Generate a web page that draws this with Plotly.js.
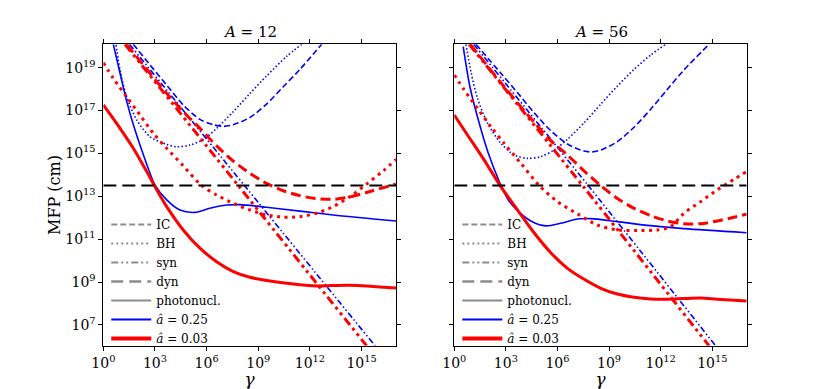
<!DOCTYPE html>
<html>
<head>
<meta charset="utf-8">
<script src="https://cdn.plot.ly/plotly-3.0.1.min.js"></script>
<style>
body { margin: 0; background: #fff; }
#plot { width: 830px; height: 389px; }
</style>
</head>
<body>
<div id="plot"></div>
<script>
// all values: log10(gamma), log10(MFP / cm)

// ---- A = 12 ----
var a12_ph_hi_x = [0.58, 0.97, 1.35, 1.74, 2.32, 3.0, 3.68, 4.45, 5.32, 6.19, 7.16, 7.94, 9.48, 11.42, 13.35, 17.0];
var a12_ph_hi_y = [20.09, 18.74, 17.45, 16.35, 14.95, 13.53, 12.83, 12.36, 12.25, 12.44, 12.59, 12.61, 12.49, 12.31, 12.13, 11.85];
var a12_ph_lo_x = [0, 0.97, 1.74, 2.52, 3.0, 3.68, 4.64, 5.61, 6.58, 7.55, 8.52, 9.48, 11.42, 12.39, 14.32, 17.0];
var a12_ph_lo_y = [17.26, 16.17, 15.24, 14.15, 13.45, 12.52, 11.43, 10.58, 9.95, 9.49, 9.22, 9.07, 8.87, 8.82, 8.85, 8.72];
var a12_bh_hi_x = [0.74, 0.97, 1.35, 1.94, 2.71, 3.68, 4.26, 5.03, 5.81, 6.58, 7.55, 8.52, 9.48, 10.64, 11.52];
var a12_bh_hi_y = [20.06, 18.89, 17.65, 16.56, 15.78, 15.42, 15.31, 15.39, 15.65, 16.17, 16.95, 17.80, 18.61, 19.52, 20.09];
var a12_bh_lo_x = [0, 0.58, 1.35, 2.13, 2.90, 3.68, 4.64, 5.71, 6.58, 7.55, 8.52, 9.48, 10.45, 11.42, 12.39, 13.35, 14.32, 15.29, 16.26, 17.0];
var a12_bh_lo_y = [19.23, 18.50, 17.65, 16.79, 15.94, 15.24, 14.42, 13.50, 13.06, 12.67, 12.36, 12.13, 12.03, 12.05, 12.21, 12.52, 12.98, 13.57, 14.19, 14.72];
var a12_ic_hi_x = [1.74, 2.71, 3.68, 4.64, 5.61, 6.39, 6.97, 7.55, 8.52, 9.48, 10.45, 11.42, 12.68];
var a12_ic_hi_y = [20.09, 19.13, 18.19, 17.26, 16.59, 16.34, 16.26, 16.34, 16.68, 17.30, 18.11, 18.92, 20.09];
var a12_ic_lo_x = [1.35, 2.71, 3.68, 4.64, 5.61, 6.58, 7.55, 8.52, 9.48, 10.45, 11.42, 12.39, 13.35, 14.32, 15.29, 17.0];
var a12_ic_lo_y = [20.09, 18.74, 17.80, 16.95, 16.17, 15.35, 14.64, 14.07, 13.60, 13.26, 13.03, 12.89, 12.86, 12.97, 13.18, 13.57];
var a12_syn_hi_x = [1.52, 8.3, 15.78];
var a12_syn_hi_y = [20.09, 13.4, 6.03];
var a12_syn_lo_x = [1.26, 7.84, 15.29];
var a12_syn_lo_y = [20.09, 13.5, 6.03];

// ---- A = 56 ----
var a56_ph_hi_x = [0.52, 0.91, 1.40, 1.98, 2.66, 3.14, 3.68, 4.45, 5.32, 6.19, 7.16, 7.94, 9.48, 11.42, 13.35, 17.0];
var a56_ph_hi_y = [19.98, 18.11, 16.56, 15.01, 13.61, 12.83, 12.33, 11.85, 11.62, 11.74, 11.94, 11.96, 11.82, 11.63, 11.49, 11.30];
var a56_ph_lo_x = [0, 0.77, 1.74, 2.71, 3.68, 4.64, 5.61, 6.58, 7.55, 8.52, 9.48, 10.45, 11.42, 12.39, 13.35, 14.32, 15.29, 17.0];
var a56_ph_lo_y = [16.79, 15.86, 14.69, 13.45, 12.36, 11.30, 10.37, 9.64, 9.13, 8.71, 8.44, 8.29, 8.21, 8.20, 8.23, 8.25, 8.20, 8.12];
var a56_bh_hi_x = [0.68, 0.97, 1.35, 1.94, 2.71, 3.48, 4.26, 5.03, 5.81, 6.58, 7.55, 8.52, 9.48, 10.45, 11.42, 12.29];
var a56_bh_hi_y = [20.09, 18.81, 17.57, 16.40, 15.47, 14.93, 14.77, 14.85, 15.16, 15.66, 16.43, 17.30, 18.14, 18.92, 19.59, 20.09];
var a56_bh_lo_x = [0, 0.58, 1.35, 2.13, 2.90, 3.87, 4.94, 6.0, 7.16, 8.32, 9.48, 10.64, 11.81, 12.58, 13.35, 14.32, 15.29, 16.26, 17.0];
var a56_bh_lo_y = [18.66, 17.96, 17.10, 16.25, 15.47, 14.54, 13.50, 12.75, 12.18, 11.66, 11.43, 11.40, 11.43, 11.58, 12.21, 12.75, 13.30, 13.79, 14.15];
var a56_ic_hi_x = [1.26, 2.71, 3.68, 4.64, 5.61, 6.58, 7.55, 8.03, 8.52, 9.48, 10.45, 11.42, 12.39, 13.35, 14.81];
var a56_ic_hi_y = [20.09, 18.74, 17.83, 16.90, 16.06, 15.44, 15.11, 15.07, 15.16, 15.55, 16.22, 17.06, 17.99, 18.89, 20.09];
var a56_ic_lo_x = [0.93, 2.71, 4.64, 5.61, 6.58, 7.55, 8.52, 9.48, 10.45, 11.42, 12.39, 13.35, 14.32, 15.29, 16.26, 17.0];
var a56_ic_lo_y = [20.09, 18.30, 16.45, 15.60, 14.93, 14.18, 13.50, 12.90, 12.44, 12.10, 11.85, 11.72, 11.72, 11.85, 12.02, 12.17];
var a56_syn_hi_x = [1.13, 7.84, 15.19];
var a56_syn_hi_y = [20.09, 13.45, 6.03];
var a56_syn_lo_x = [0.87, 7.55, 14.81];
var a56_syn_lo_y = [20.09, 13.41, 6.03];

// dynamical time, same in both panels
var dyn_x = [0, 17];
var dyn_y = [13.5, 13.5];

var x_tickvals = [0, 3, 6, 9, 12, 15];
var y_tickvals = [7, 9, 11, 13, 15, 17, 19];
var legend_names = ['IC', 'BH', 'syn', 'dyn', 'photonucl.', '<i>â</i> = 0.25', '<i>â</i> = 0.03'];

function pow10(arr) {
    return arr.map(function (v) { return Math.pow(10, v); });
}
function sup_labels(arr) {
    return arr.map(function (v) { return '10<sup>' + v + '</sup>'; });
}

var BLUE = '#0000ff', RED = '#ff0000', GREY = '#8c8c8c';
var dash_ic = ['6px,3px', '10px,5px'];
var dash_bh = ['1.5px,2.2px', '3px,4.5px'];
var dash_syn = ['6px,2.5px,1.5px,2.5px,1.5px,2.5px', '9px,4px,3px,4px,3px,4px'];

function curve(xs, ys, color, width, dash, xa, ya) {
    return {
	type : 'scatter', mode : 'lines',
	x : pow10(xs), y : pow10(ys),
	xaxis : xa, yaxis : ya,
	line : { color : color, width : width, dash : dash, shape : 'spline', smoothing : 0.8 },
	showlegend : false, hoverinfo : 'skip'
    };
}

var data = [];
var panels = [
    { xa : 'x', ya : 'y', ph : [a12_ph_hi_x, a12_ph_hi_y, a12_ph_lo_x, a12_ph_lo_y],
      bh : [a12_bh_hi_x, a12_bh_hi_y, a12_bh_lo_x, a12_bh_lo_y],
      ic : [a12_ic_hi_x, a12_ic_hi_y, a12_ic_lo_x, a12_ic_lo_y],
      syn : [a12_syn_hi_x, a12_syn_hi_y, a12_syn_lo_x, a12_syn_lo_y], legend : 'legend' },
    { xa : 'x2', ya : 'y2', ph : [a56_ph_hi_x, a56_ph_hi_y, a56_ph_lo_x, a56_ph_lo_y],
      bh : [a56_bh_hi_x, a56_bh_hi_y, a56_bh_lo_x, a56_bh_lo_y],
      ic : [a56_ic_hi_x, a56_ic_hi_y, a56_ic_lo_x, a56_ic_lo_y],
      syn : [a56_syn_hi_x, a56_syn_hi_y, a56_syn_lo_x, a56_syn_lo_y], legend : 'legend2' }
];

for (let i = 0; i < panels.length; i++) {
    var p = panels[i];
    // blue = spin 0.25 (thin), red = spin 0.03 (thick)
    data.push(curve(p.ic[0], p.ic[1], BLUE, 1.6, dash_ic[0], p.xa, p.ya));
    data.push(curve(p.bh[0], p.bh[1], BLUE, 1.6, dash_bh[0], p.xa, p.ya));
    data.push(curve(p.syn[0], p.syn[1], BLUE, 1.6, dash_syn[0], p.xa, p.ya));
    data.push(curve(p.ph[0], p.ph[1], BLUE, 1.6, 'solid', p.xa, p.ya));
    data.push(curve(p.ic[2], p.ic[3], RED, 3, dash_ic[1], p.xa, p.ya));
    data.push(curve(p.bh[2], p.bh[3], RED, 3, dash_bh[1], p.xa, p.ya));
    data.push(curve(p.syn[2], p.syn[3], RED, 3, dash_syn[1], p.xa, p.ya));
    data.push(curve(p.ph[2], p.ph[3], RED, 3, 'solid', p.xa, p.ya));
    data.push(curve(dyn_x, dyn_y, 'black', 2, '13px,6px', p.xa, p.ya));

    // legend samples
    var leg_style = [
	{ color : GREY, width : 2, dash : '6px,3px' },
	{ color : GREY, width : 2, dash : '2px,3px' },
	{ color : GREY, width : 2, dash : '7px,3px,2px,3px,2px,3px' },
	{ color : GREY, width : 2.5, dash : '12px,6px' },
	{ color : GREY, width : 2, dash : 'solid' },
	{ color : BLUE, width : 2, dash : 'solid' },
	{ color : RED, width : 4, dash : 'solid' }
    ];
    for (let j = 0; j < legend_names.length; j++) {
	data.push({
	    type : 'scatter', mode : 'lines', x : [null], y : [null],
	    xaxis : p.xa, yaxis : p.ya, name : legend_names[j],
	    line : leg_style[j], legend : p.legend, showlegend : true
	});
    }
}

var FONT = 'DejaVu Serif';
var dom_y = [0.1113, 0.8861];

function xaxis(dom, anchor) {
    return {
	type : 'log', domain : dom, anchor : anchor,
	range : [0, 17],
	tickmode : 'array', tickvals : pow10(x_tickvals), ticktext : sup_labels(x_tickvals),
	ticks : 'outside', ticklen : 4, tickcolor : 'black',
	showline : true, linecolor : 'black', linewidth : 1, mirror : 'ticks',
	showgrid : false, zeroline : false,
	tickfont : { family : FONT, size : 14, color : 'black' },
	title : { text : '<i>γ</i>', font : { family : FONT, size : 17, color : 'black' }, standoff : 3 }
    };
}
function yaxis(anchor, labels) {
    return {
	type : 'log', domain : dom_y, anchor : anchor,
	range : [6.03, 20.09],
	tickmode : 'array', tickvals : pow10(y_tickvals), ticktext : sup_labels(y_tickvals),
	showticklabels : labels,
	ticks : 'outside', ticklen : 4, tickcolor : 'black',
	showline : true, linecolor : 'black', linewidth : 1, mirror : 'ticks',
	showgrid : false, zeroline : false,
	tickfont : { family : FONT, size : 14, color : 'black' }
    };
}

var yaxis1 = yaxis('x', true);
yaxis1.title = { text : 'MFP (cm)', font : { family : FONT, size : 16, color : 'black' }, standoff : 0 };

function leg(x) {
    return {
	x : x, y : 0.46, xanchor : 'left', yanchor : 'top',
	bgcolor : 'rgba(0,0,0,0)', borderwidth : 0,
	font : { family : FONT, size : 12, color : 'black' },
	itemwidth : 40, tracegroupgap : 0
    };
}

var layout = {
    width : 830, height : 389,
    margin : { l : 0, r : 0, t : 0, b : 0 },
    paper_bgcolor : 'white', plot_bgcolor : 'white',
    font : { family : FONT },
    showlegend : true,
    xaxis : xaxis([0.1245, 0.4771], 'y'),
    yaxis : yaxis1,
    xaxis2 : xaxis([0.5473, 0.8996], 'y2'),
    yaxis2 : yaxis('x2', false),
    legend : leg(0.128),
    legend2 : leg(0.551),
    annotations : [
	{ text : '<i>A</i> = 12', xref : 'paper', yref : 'paper', x : 0.3008, y : dom_y[1],
	  xanchor : 'center', yanchor : 'bottom', yshift : 1, showarrow : false,
	  font : { family : FONT, size : 15, color : 'black' } },
	{ text : '<i>A</i> = 56', xref : 'paper', yref : 'paper', x : 0.7235, y : dom_y[1],
	  xanchor : 'center', yanchor : 'bottom', yshift : 1, showarrow : false,
	  font : { family : FONT, size : 15, color : 'black' } }
    ]
};

Plotly.newPlot('plot', data, layout, { displayModeBar : false, staticPlot : true });
</script>
</body>
</html>
